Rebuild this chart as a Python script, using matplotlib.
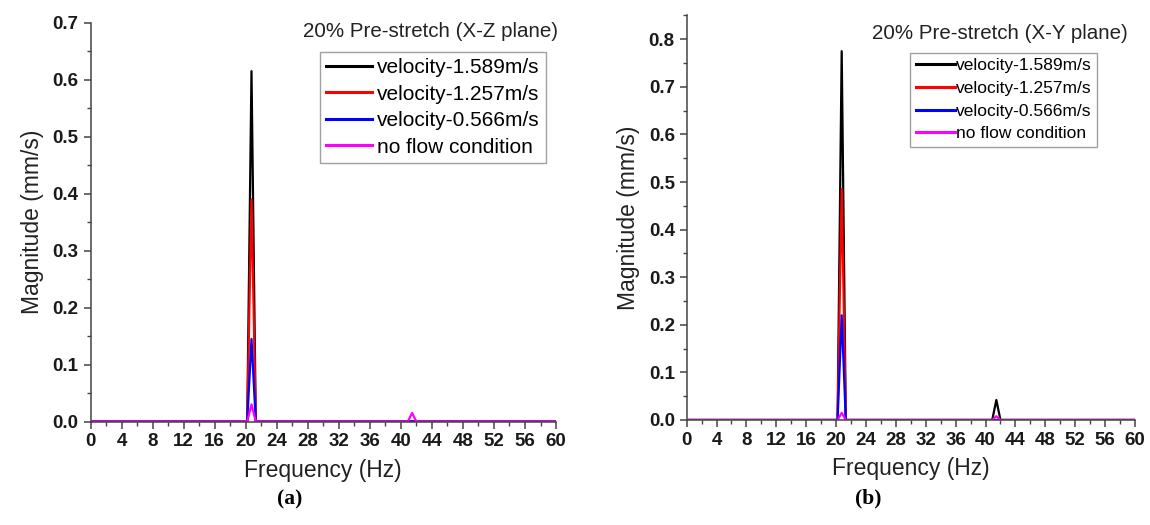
import matplotlib.pyplot as plt
from matplotlib.ticker import MultipleLocator

plt.rcParams['font.family'] = ['Liberation Sans', 'DejaVu Sans']

# frequency points (Hz)
freq = [0, 20.2, 20.75, 21.3, 40.9, 41.45, 42.0, 60]

# (a) X-Z plane, magnitude in mm/s
xz_v1589 = [0, 0, 0.615, 0, 0, 0.0, 0, 0]
xz_v1257 = [0, 0, 0.39, 0, 0, 0.0, 0, 0]
xz_v0566 = [0, 0, 0.145, 0, 0, 0.0, 0, 0]
xz_noflow = [0, 0, 0.03, 0, 0, 0.015, 0, 0]

# (b) X-Y plane
xy_v1589 = [0, 0, 0.775, 0, 0, 0.042, 0, 0]
xy_v1257 = [0, 0, 0.485, 0, 0, 0.0, 0, 0]
xy_v0566 = [0, 0, 0.22, 0, 0, 0.0, 0, 0]
xy_noflow = [0, 0, 0.015, 0, 0, 0.008, 0, 0]

labels = ['velocity-1.589m/s', 'velocity-1.257m/s', 'velocity-0.566m/s', 'no flow condition']
colors = ['black', 'red', 'blue', 'magenta']

fig = plt.figure(figsize=(11.5, 5.25), dpi=100)
ax1 = fig.add_axes([0.0787, 0.1971, 0.4048, 0.7596])
ax2 = fig.add_axes([0.5971, 0.2000, 0.3898, 0.7705])


def draw(ax, series, ymax, title, title_xy, leg_xy, leg_opts, tag, tag_xy):
    for vals, lab, c in zip(series, labels, colors):
        ax.plot(freq, vals, color=c, lw=1.6, label=lab)
    ax.set_xlim(0, 60)
    ax.set_ylim(0, ymax)
    ax.xaxis.set_major_locator(MultipleLocator(4))
    ax.xaxis.set_minor_locator(MultipleLocator(2))
    ax.yaxis.set_major_locator(MultipleLocator(0.1))
    ax.yaxis.set_minor_locator(MultipleLocator(0.05))
    ax.yaxis.set_major_formatter(lambda v, p: f'{v:.1f}')
    for s in ['top', 'right']:
        ax.spines[s].set_visible(False)
    for s in ['left', 'bottom']:
        ax.spines[s].set_color('#444444')
        ax.spines[s].set_linewidth(1.1)
    ax.tick_params(which='major', direction='out', length=5, width=1.1, color='#444444',
                   labelsize=13.5, pad=3.5)
    ax.tick_params(which='minor', direction='out', length=3, width=1.0, color='#444444')
    for t in ax.get_xticklabels() + ax.get_yticklabels():
        t.set_fontweight('bold')
        t.set_color('#1a1a1a')
    ax.set_xlabel('Frequency (Hz)', fontsize=16.5, color='#222222', labelpad=6)
    ax.set_ylabel('Magnitude (mm/s)', fontsize=16.5, color='#222222', labelpad=6)
    ax.text(title_xy[0], title_xy[1], title, transform=ax.transAxes, ha='right',
            va='center', fontsize=14.8, color='#222222')
    leg = ax.legend(loc='upper right', bbox_to_anchor=leg_xy, frameon=True,
                    fancybox=False, edgecolor='#888888', borderaxespad=0,
                    **leg_opts)
    leg.get_frame().set_linewidth(1.0)
    for h in leg.get_lines():
        h.set_linewidth(2.2)
    ax.text(tag_xy[0], tag_xy[1], tag, transform=ax.transAxes, ha='center', va='center',
            fontsize=15.5, fontweight='bold', family=['Liberation Serif', 'DejaVu Serif'])


draw(ax1, [xz_v1589, xz_v1257, xz_v0566, xz_noflow], 0.7,
     '20% Pre-stretch (X-Z plane)', (1.004, 0.977), (0.9785, 0.927),
     dict(fontsize=15, handlelength=2.2, handletextpad=0.25, borderpad=0.3,
          labelspacing=0.36), '(a)', (0.4286, -0.195))
draw(ax2, [xy_v1589, xy_v1257, xy_v0566, xy_noflow], 0.85,
     '20% Pre-stretch (X-Y plane)', (0.984, 0.956), (0.916, 0.908),
     dict(fontsize=12.5, handlelength=2.3, handletextpad=0.05, borderpad=0.3,
          labelspacing=0.44), '(b)', (0.404, -0.195))

fig.savefig('out.png', dpi=100)
